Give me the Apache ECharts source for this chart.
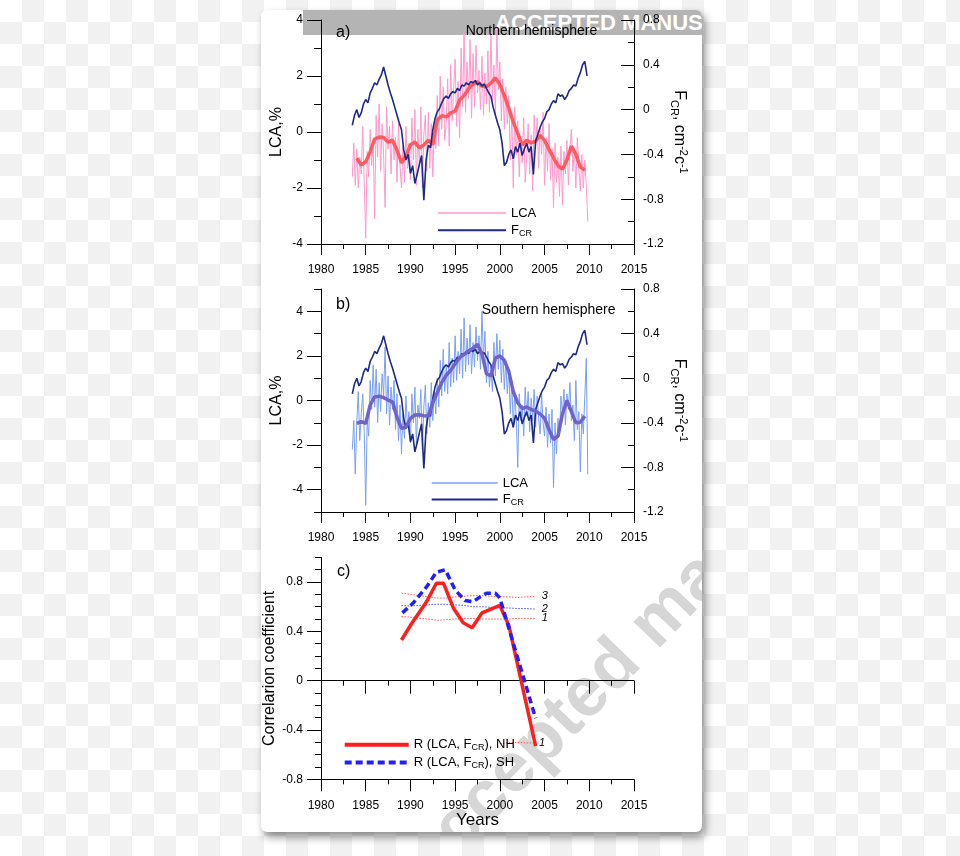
<!DOCTYPE html>
<html><head><meta charset="utf-8">
<script src="https://cdn.jsdelivr.net/npm/echarts@6/dist/echarts.min.js"></script>
<style>
html,body{margin:0;padding:0;width:960px;height:856px;overflow:hidden;}
body{background-color:#fff;background-image:linear-gradient(45deg,#f1f1f1 25%,transparent 25%,transparent 75%,#f1f1f1 75%),linear-gradient(45deg,#f1f1f1 25%,transparent 25%,transparent 75%,#f1f1f1 75%);background-size:44px 44px;background-position:0 0,22px 22px;}
#card{position:absolute;left:261px;top:10px;width:441px;height:822px;background:#fff;border-radius:6px;box-shadow:3px 5px 8px rgba(0,0,0,0.45);overflow:hidden;}
#banner{position:absolute;left:42px;top:-1px;width:400px;height:26px;background:#b4b4b4;color:#fff;font:bold 22px "Liberation Sans",Arial,sans-serif;line-height:27px;white-space:nowrap;overflow:hidden;padding-left:192px;box-sizing:border-box;}
#wm{position:absolute;left:146px;top:830px;font:bold 70px "Liberation Sans",Arial,sans-serif;color:#d6d6d6;white-space:nowrap;line-height:70px;transform-origin:0 50%;transform:rotate(-46deg);}
#chart{position:absolute;left:0;top:0;width:960px;height:856px;}
</style></head>
<body>
<div id="card"><div id="banner">ACCEPTED MANUSCRIPT</div><div id="wm">Accepted manuscript</div></div>
<div id="chart"></div>
<script>
// ---------------- data ----------------
const seriesStart = 1983.5;
const lcaStep = 1 / 6;
const lcaNh = [
 -1.6,-0.4,-1.9,
 -0.6,-2.0,-0.9,-1.5,0.2,-1.8,
 -3.8,-0.7,-1.6,0.1,-1.2,-0.3,
 -3.1,0.6,-0.9,1.0,-1.4,0.3,
 -0.8,-2.7,0.9,-0.6,0.2,-1.5,
 0.4,-1.0,-0.2,-1.8,0.3,-1.2,
 -2.0,-0.5,-1.8,0.2,-1.3,-0.4,
 -1.7,0.5,-1.0,0.8,-1.9,0.1,
 -1.2,0.9,-2.0,-0.1,0.6,-1.4,
 0.7,-1.3,0.3,-1.6,0.2,-0.6,
 1.3,-0.5,2.0,0.1,1.6,-0.3,
 0.3,1.9,-0.5,2.4,0.4,1.5,
 2.6,0.2,1.8,-0.2,3.0,0.9,
 3.6,0.7,2.5,1.2,3.3,0.5,
 2.8,0.9,3.1,1.4,2.2,0.8,
 2.7,0.6,2.1,1.0,2.9,0.7,
 3.6,1.1,2.4,0.6,3.7,1.5,
 2.5,0.4,1.9,0.1,1.6,0.3,
 1.3,-1.0,0.7,-2.0,0.9,-0.8,
 0.4,-1.6,-0.2,-1.1,0.5,-1.8,
 -0.9,0.3,-1.5,-0.1,-2.1,0.6,
 -0.6,0.5,-1.3,0.2,-0.8,0.7,
 -1.9,-0.2,-1.4,0.3,-1.7,-0.6,
 -2.7,-0.4,-1.8,-0.9,-2.3,-0.5,
 -2.6,-0.7,-1.5,-0.3,-1.9,-0.6,
 0.1,-1.4,-0.6,-2.0,-0.2,-1.3,
 -2.1,-0.8,-2.0,-1.0,-1.9,-3.2
];
const lcaSh = [
 -2.2,-0.9,-3.3,
 -1.0,0.4,-1.8,-0.6,0.3,-1.4,
 -4.7,-0.9,-1.6,0.9,-0.4,1.6,
 -0.3,1.4,-1.0,0.8,-0.5,1.2,
 0.2,2.4,-0.6,1.1,-1.1,0.6,
 -0.4,0.9,-1.3,0.3,-1.8,-0.2,
 -2.4,-0.6,-1.7,0.2,-1.2,-0.5,
 -1.9,0.3,-1.0,0.6,-2.0,-0.2,
 -0.8,0.5,-2.2,-0.3,0.7,-1.5,
 -0.1,-1.2,0.8,-0.9,0.4,-0.6,
 1.0,-0.3,1.8,0.2,2.3,0.4,
 1.5,0.3,2.6,0.6,1.9,0.8,
 2.9,0.9,2.2,1.2,3.2,1.0,
 3.7,1.3,2.8,1.6,3.4,1.2,
 2.6,1.5,3.3,1.8,2.9,1.4,
 4.0,1.9,3.1,0.8,2.2,0.6,
 1.5,0.4,2.6,1.1,3.0,1.4,
 2.7,0.8,2.3,0.5,1.8,0.3,
 1.4,-0.6,0.9,-1.2,0.4,-0.8,
 -3.0,0.3,-0.9,-0.2,-1.6,0.6,
 -0.7,0.4,-1.4,0.1,-0.9,0.5,
 -1.2,0.2,-0.8,-1.5,0.3,-1.0,
 -1.6,-0.3,-2.1,-0.6,-1.9,-0.4,
 -3.9,-1.0,-2.4,-0.8,-1.6,0.2,
 -0.6,0.5,-1.1,0.3,-0.4,0.8,
 -0.9,-0.2,-1.8,0.9,-1.3,-0.5,
 -3.2,-0.6,-1.5,0.2,1.9,-3.3
];
const fcrStep = 0.25;
const fcr = [
 -0.14,-0.05,
 0.00,-0.07,-0.03,0.05,
 0.09,0.06,0.15,0.19,
 0.24,0.22,0.27,0.31,
 0.38,0.30,0.22,0.15,
 0.09,0.02,-0.05,-0.12,
 -0.18,-0.36,-0.45,-0.40,
 -0.57,-0.50,-0.66,-0.58,
 -0.49,-0.41,-0.81,-0.45,
 -0.32,-0.34,-0.18,-0.08,
 -0.02,0.01,0.06,0.10,
 0.12,0.10,0.14,0.16,
 0.15,0.19,0.17,0.22,
 0.21,0.24,0.22,0.25,
 0.24,0.26,0.22,0.24,
 0.21,0.23,0.19,0.15,
 0.12,0.02,-0.05,-0.12,
 -0.18,-0.30,-0.50,-0.47,
 -0.40,-0.36,-0.44,-0.33,
 -0.38,-0.30,-0.41,-0.35,
 -0.30,-0.38,-0.33,-0.58,
 -0.28,-0.22,-0.16,-0.11,
 -0.08,-0.02,0.00,0.05,
 0.08,0.06,0.14,0.12,
 0.13,0.09,0.12,0.17,
 0.19,0.22,0.21,0.28,
 0.33,0.40,0.43,0.30
];
const smoothStart = 1984, smoothStep = 0.5;
const lcaNhSmooth = [
 -0.94,-1.18,-1.06,-0.70,-0.25,-0.18,-0.20,-0.36,-0.29,-0.66,
 -1.10,-0.85,-0.46,-0.36,-0.57,-0.46,-0.29,-0.45,0.43,0.58,
 0.54,0.68,0.75,1.14,1.30,1.55,1.71,1.79,1.64,1.62,
 1.75,1.93,1.70,1.30,0.85,0.35,-0.05,-0.46,-0.29,-0.39,
 -0.33,-0.12,-0.30,-0.62,-0.92,-1.20,-1.33,-1.00,-0.50,-0.80,
 -1.25,-1.36
];
const lcaShSmooth = [
 -1.03,-0.95,-1.03,-0.20,0.16,0.19,0.13,0.02,-0.06,-0.75,
 -1.25,-1.20,-0.80,-0.65,-0.64,-0.68,-0.70,-0.10,0.35,0.80,
 1.13,1.35,1.65,1.92,2.07,2.22,2.35,2.52,2.10,1.20,
 1.10,1.90,2.00,1.80,1.30,0.40,-0.10,-0.36,-0.29,-0.40,
 -0.48,-0.60,-0.80,-1.30,-1.75,-1.60,-0.60,0.00,-0.50,-1.00,
 -0.98,-0.70
];
const corrNhYears = [1989, 1990.1, 1991.8, 1992.9, 1993.7, 1994.8, 1995.9, 1996.9, 1998, 2000, 2001, 2004];
const corrNh = [0.33, 0.46, 0.64, 0.79, 0.79, 0.59, 0.47, 0.43, 0.55, 0.61, 0.45, -0.53];
const corrShYears = [1989.1, 1990.3, 1991.8, 1992.9, 1993.9, 1995, 1996.1, 1997, 1997.8, 1998.5, 1999.5, 2000, 2004];
const corrSh = [0.55, 0.63, 0.76, 0.88, 0.90, 0.735, 0.65, 0.64, 0.68, 0.71, 0.71, 0.67, -0.305];
const levelYears = [1989,1990,1991,1992,1993,1994,1995,1996,1997,1998,1999,2000,2001,2002,2003,2004];
const level3 = [0.71,0.70,0.69,0.68,0.67,0.67,0.68,0.685,0.69,0.69,0.685,0.68,0.68,0.675,0.68,0.685];
const level2 = [0.61,0.605,0.61,0.615,0.62,0.62,0.615,0.61,0.60,0.60,0.595,0.59,0.59,0.585,0.585,0.58];
const level1 = [0.52,0.515,0.505,0.50,0.49,0.495,0.50,0.505,0.505,0.50,0.50,0.50,0.50,0.505,0.505,0.505];
const levelNegYears = [2000, 2001, 2002, 2003, 2003.7];
const levelNeg1 = [-0.51, -0.505, -0.50, -0.505, -0.505];
const yearRange = [1980, 2015];
const lcaTicksB = [-4, -2, 0, 2, 4];
const corrTicks = [-0.8, -0.4, 0, 0.4, 0.8];

// ---------------- helpers ----------------
const FONT = '"Liberation Sans", Arial, sans-serif';
const stepped = (arr, start, step) => arr.map((v, i) => [start + i * step, v]);
const paired = (xs, ys) => xs.map((x, i) => [x, ys[i]]);
const black = { color: '#000', width: 1 };
const plain = v => String(Math.round(v * 100) / 100);

function xAxis(grid, showLabels, extra) {
  return Object.assign({
    type: 'value', gridIndex: grid, min: yearRange[0], max: yearRange[1], interval: 5,
    axisLine: { show: true, onZero: false, lineStyle: black },
    axisTick: { show: true, length: 11, lineStyle: black },
    minorTick: { show: true, splitNumber: 2, length: 5, lineStyle: black },
    axisLabel: { show: showLabels, margin: 20, color: '#000', fontSize: 12, fontFamily: FONT, formatter: plain },
    splitLine: { show: false }, minorSplitLine: { show: false }
  }, extra || {});
}
const lcaName = { name: 'LCA,%', nameLocation: 'middle', nameRotate: 90, nameGap: 36,
  nameTextStyle: { fontSize: 16, color: '#000', fontFamily: FONT } };
const fcrName = {
  name: '{t|F}{sub|CR}{t|, cm}{sup|-2}{t|c}{sup|-1}', nameLocation: 'middle', nameRotate: -90, nameGap: 35,
  nameTextStyle: { color: '#000', fontFamily: FONT, rich: {
    t: { fontSize: 16, lineHeight: 20, color: '#000', fontFamily: FONT },
    sub: { fontSize: 11, lineHeight: 12, verticalAlign: 'bottom', color: '#000', fontFamily: FONT },
    sup: { fontSize: 11, lineHeight: 12, verticalAlign: 'top', color: '#000', fontFamily: FONT }
  } }
};
function rightAxis(grid) {
  return Object.assign({
    type: 'value', gridIndex: grid, position: 'right', min: -1.2, max: 0.8, interval: 0.4,
    axisLine: { show: true, lineStyle: black },
    axisTick: { show: true, inside: true, length: 13, lineStyle: black },
    minorTick: { show: true, splitNumber: 2, length: 6, lineStyle: black },
    axisLabel: { margin: 9, color: '#000', fontSize: 12, fontFamily: FONT, formatter: plain },
    splitLine: { show: false }, minorSplitLine: { show: false }
  }, fcrName);
}
const lineBase = { type: 'line', symbol: 'none', showSymbol: false, animation: false, silent: true };
function line(name, data, xi, yi, color, width, extra) {
  return Object.assign({}, lineBase, { name, data, xAxisIndex: xi, yAxisIndex: yi,
    itemStyle: { color }, lineStyle: { color, width } }, extra || {});
}
const legendRich = {
  t: { fontSize: 13, color: '#000', fontFamily: FONT, lineHeight: 15 },
  s: { fontSize: 9, color: '#000', fontFamily: FONT, lineHeight: 10, verticalAlign: 'bottom' }
};
function legend(items, left, top, itemWidth, gap, fmt) {
  return { data: items, orient: 'vertical', left, top, itemWidth, itemHeight: 14, itemGap: gap,
    selectedMode: false, formatter: fmt, itemStyle: { opacity: 0 },
    textStyle: { fontSize: 13, color: '#000', fontFamily: FONT, rich: legendRich } };
}
function txt(x, y, text, size, extra) {
  return { type: 'text', x, y, z: 100, style: Object.assign({ text, fontSize: size, fontFamily: FONT, fill: '#000', verticalAlign: 'middle' }, extra || {}) };
}
function levelLine(name, years, vals, color, label) {
  return line(name, paired(years, vals), 2, 6, color, 1, {
    lineStyle: { color, width: 1, type: [1.5, 1.5] },
    endLabel: { show: true, formatter: label, fontStyle: 'italic', fontSize: 11, color: '#000', fontFamily: FONT, distance: 6 }
  });
}

// ---------------- option ----------------
const option = {
  backgroundColor: 'transparent',
  animation: false,
  grid: [
    { left: 321, top: 20, width: 313, height: 224, outerBoundsMode: 'none' },
    { left: 321, top: 289, width: 313, height: 223, outerBoundsMode: 'none' },
    { left: 321, top: 557.4, width: 313, height: 221.9, outerBoundsMode: 'none' },
    { left: 321, top: 557.4, width: 313, height: 123.3, outerBoundsMode: 'none' }
  ],
  xAxis: [
    xAxis(0, true),
    xAxis(1, true),
    xAxis(2, true, { axisTick: { show: true, length: 12, lineStyle: black }, name: 'Years', nameLocation: 'middle', nameGap: 33,
      nameTextStyle: { fontSize: 17, color: '#000', fontFamily: FONT } }),
    xAxis(3, false, { axisTick: { show: true, length: 13, lineStyle: black } })
  ],
  yAxis: [
    Object.assign({ type: 'value', gridIndex: 0, position: 'left', min: -4, max: 4, interval: 2,
      axisLine: { show: true, lineStyle: black },
      axisTick: { show: true, length: 14, lineStyle: black },
      minorTick: { show: true, splitNumber: 2, length: 7, lineStyle: black },
      axisLabel: { margin: 18, color: '#000', fontSize: 12, fontFamily: FONT, formatter: plain },
      splitLine: { show: false }, minorSplitLine: { show: false } }, lcaName),
    rightAxis(0),
    { type: 'value', gridIndex: 1, position: 'left', min: -5, max: 5, interval: 1,
      axisLine: { show: true, lineStyle: black },
      axisTick: { show: true, length: 7, lineStyle: black },
      axisLabel: { show: false }, splitLine: { show: false } },
    Object.assign({ type: 'value', gridIndex: 1, position: 'left', min: -5, max: 5,
      axisLine: { show: false },
      axisTick: { show: true, length: 14, lineStyle: black, customValues: lcaTicksB },
      axisLabel: { margin: 18, color: '#000', fontSize: 12, fontFamily: FONT, customValues: lcaTicksB, formatter: plain },
      splitLine: { show: false } }, lcaName),
    rightAxis(1),
    { type: 'value', gridIndex: 2, position: 'left', min: -0.8, max: 1.0, interval: 0.1,
      axisLine: { show: true, lineStyle: black },
      axisTick: { show: true, length: 6, lineStyle: black },
      axisLabel: { show: false }, splitLine: { show: false } },
    { type: 'value', gridIndex: 2, position: 'left', min: -0.8, max: 1.0,
      axisLine: { show: false },
      axisTick: { show: true, length: 14, lineStyle: black, customValues: corrTicks },
      axisLabel: { margin: 18, color: '#000', fontSize: 12, fontFamily: FONT, customValues: corrTicks, formatter: plain },
      splitLine: { show: false },
      name: 'Correlarion coefficient', nameLocation: 'middle', nameRotate: 90, nameGap: 43,
      nameTextStyle: { fontSize: 16, color: '#000', fontFamily: FONT } },
    { type: 'value', gridIndex: 3, min: 0, max: 1, show: false }
  ],
  legend: [
    legend([{ name: 'LCA_a', lineStyle: { width: 1.5 } }, { name: 'FCR_a', lineStyle: { width: 2 } }], 432, 201.5, 68, 4.3,
      n => n === 'LCA_a' ? '{t|LCA}' : '{t|F}{s|CR}'),
    legend([{ name: 'LCA_b', lineStyle: { width: 1.5 } }, { name: 'FCR_b', lineStyle: { width: 2 } }], 425.7, 471.5, 66, 3.6,
      n => n === 'LCA_b' ? '{t|LCA}' : '{t|F}{s|CR}'),
    legend([{ name: 'R_NH', lineStyle: { width: 4 } }, { name: 'R_SH', lineStyle: { width: 4, type: [7, 4] } }], 337.7, 733.3, 64, 3.7,
      n => n === 'R_NH' ? '{t|R (LCA, F}{s|CR}{t|), NH}' : '{t|R (LCA, F}{s|CR}{t|), SH}')
  ],
  series: [
    // panel a
    line('LCA_a', stepped(lcaNh, seriesStart, lcaStep), 0, 0, '#ff99cc', 1),
    line('NH smooth', stepped(lcaNhSmooth, smoothStart, smoothStep), 0, 0, '#ff5a5f', 3.5),
    line('FCR_a', stepped(fcr, seriesStart, fcrStep), 0, 1, '#1d2a86', 1.6),
    // panel b
    line('LCA_b', stepped(lcaSh, seriesStart, lcaStep), 1, 3, '#7a9ff2', 1),
    line('FCR_b', stepped(fcr, seriesStart, fcrStep), 1, 4, '#1d2a86', 1.6),
    line('SH smooth', stepped(lcaShSmooth, smoothStart, smoothStep), 1, 3, '#7064c8', 3.5),
    // panel c
    levelLine('L3', levelYears, level3, '#ff5050', '3'),
    levelLine('L2', levelYears, level2, '#4a4aff', '2'),
    levelLine('L1', levelYears, level1, '#ff5050', '1'),
    levelLine('L1n', levelNegYears, levelNeg1, '#ff5050', '1'),
    line('R_NH', paired(corrNhYears, corrNh), 2, 6, '#ff1e1e', 3.5),
    line('R_SH', paired(corrShYears, corrSh), 2, 6, '#2020ff', 3.5, { lineStyle: { color: '#2020ff', width: 3.5, type: [7, 4] } })
  ],
  graphic: [
    txt(336, 33, 'a)', 16),
    txt(465.7, 31, 'Northern hemisphere', 14),
    txt(336, 305, 'b)', 16),
    txt(481.7, 310, 'Southern hemisphere', 14),
    txt(337, 572, 'c)', 16)
  ]
};
const chart = echarts.init(document.getElementById('chart'), null, { renderer: 'canvas' });
chart.setOption(option);
</script>
</body></html>
